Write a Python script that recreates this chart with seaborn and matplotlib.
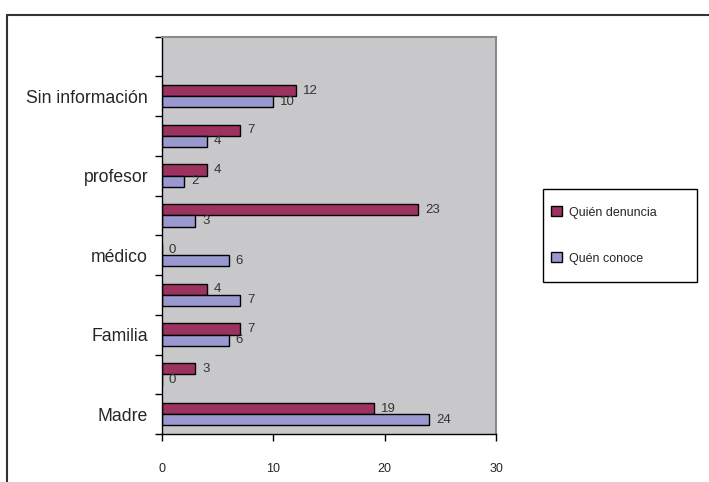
import numpy as np
import pandas as pd
import matplotlib
matplotlib.use("Agg")
import matplotlib.pyplot as plt
from matplotlib.lines import Line2D
from matplotlib.patches import Patch, Rectangle
import seaborn as sns

# categorias de abajo hacia arriba (las intermedias no muestran rotulo)
categorias = ["Madre", "", "Familia", "", "médico", "", "profesor", "", "Sin información", ""]
denuncia = [19, 3, 7, 4, 0, 23, 4, 7, 12, None]
conoce = [24, 0, 6, 7, 6, 3, 2, 4, 10, None]
series = ["Quién denuncia", "Quén conoce"]
colores = ["#9c325f", "#9999cf"]
x_ticks = [0, 10, 20, 30]

n = len(categorias)
claves = [f"c{i}" for i in range(n)]
df = pd.DataFrame({
    "clave": claves * 2,
    "valor": denuncia + conoce,
    "serie": [series[0]] * n + [series[1]] * n,
})
orden = claves[::-1]  # seaborn pone la primera arriba

sns.set_style("white")
plt.rcParams["font.family"] = ["Liberation Sans", "DejaVu Sans"]

fig = plt.figure(figsize=(7.09, 4.82), dpi=100)
ax = fig.add_axes([162 / 709, 1 - 434 / 482, 334 / 709, 397.5 / 482])
sns.barplot(data=df.dropna(), x="valor", y="clave", hue="serie", order=orden,
            hue_order=series, palette=colores, orient="h", width=0.56, gap=0,
            edgecolor="black", linewidth=1.0, saturation=1, legend=False, ax=ax)

for cont in ax.containers:
    ax.bar_label(cont, fmt="%g", padding=5, fontsize=9.5, color="#333333")

ax.set_facecolor("#c8c8ca")
ax.set_xlim(0, 30)
ax.set_ylim(n - 0.5, -0.5)
ax.set_xlabel("")
ax.set_ylabel("")
ax.set_xticks(x_ticks)
ax.tick_params(axis="x", direction="out", length=5, width=1, pad=16,
               labelsize=9, color="black", bottom=True)

ax.set_yticks(np.arange(n + 1) - 0.5)
ax.set_yticklabels([])
ax.set_yticks(np.arange(n), minor=True)
ax.set_yticklabels(categorias[::-1], minor=True)
ax.tick_params(axis="y", which="major", direction="out", length=5, width=1,
               color="black", left=True)
ax.tick_params(axis="y", which="minor", length=0, pad=10, labelsize=12.7, left=True)

for s in ["left", "bottom"]:
    ax.spines[s].set_color("black")
    ax.spines[s].set_linewidth(1.0)
for s in ["top", "right"]:
    ax.spines[s].set_color("#8a8a8a")
    ax.spines[s].set_linewidth(1.5)

# leyenda: marco aparte para controlar el relleno
fig.add_artist(Rectangle((543 / 709, 1 - 282 / 482), 154 / 709, 93 / 482,
                         transform=fig.transFigure, facecolor="white",
                         edgecolor="black", lw=1.0))
handles = [Patch(facecolor=c, edgecolor="black", linewidth=1) for c in colores]
fig.legend(handles, series, loc="center left",
           bbox_to_anchor=(551 / 709, 1 - 235.5 / 482),
           borderaxespad=0, borderpad=0, fontsize=9, labelspacing=2.7,
           handlelength=0.85, handleheight=0.85, handletextpad=0.56,
           frameon=False)

# marco exterior parcial
fig.add_artist(Line2D([7 / 709, 1], [1 - 15 / 482] * 2, transform=fig.transFigure,
                      color="#333333", lw=1.5))
fig.add_artist(Line2D([7 / 709] * 2, [0, 1 - 15 / 482], transform=fig.transFigure,
                      color="#333333", lw=1.5))

fig.savefig("out.png", dpi=100)
